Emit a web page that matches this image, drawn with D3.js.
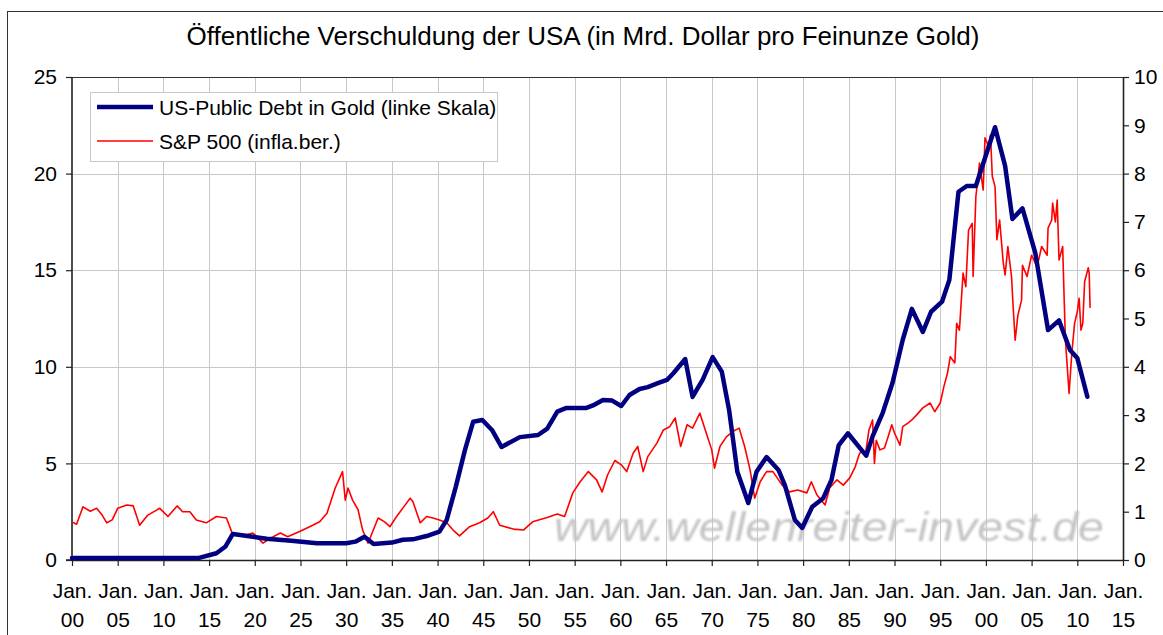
<!DOCTYPE html>
<html><head><meta charset="utf-8">
<script src="https://cdn.jsdelivr.net/npm/d3@7"></script>
<style>
body{margin:0;background:#fff}
svg{display:block}
text{font-family:Arial,"Liberation Sans",sans-serif;fill:#000}
</style>
</head><body>
<svg id="c" width="1163" height="635"></svg>
<script>
const title = "Öffentliche Verschuldung der USA (in Mrd. Dollar pro Feinunze Gold)";
const seriesNames = ["US-Public Debt in Gold (linke Skala)", "S&P 500 (infla.ber.)"];
const watermark = "www.wellenreiter-invest.de";

const xTickYears = [1900,1905,1910,1915,1920,1925,1930,1935,1940,1945,1950,1955,1960,1965,1970,1975,1980,1985,1990,1995,2000,2005,2010,2015];
const leftTicks = [0,5,10,15,20,25];
const rightTicks = [0,1,2,3,4,5,6,7,8,9,10];

// US public debt in gold (left scale)
const debtYears = [1900,1905,1910,1913.8,1915.8,1916.8,1917.6,1919.8,1921.3,1924,1926.8,1930,1931,1932,1933,1935,1936.2,1937.3,1938.8,1940.2,1941,1942,1943,1943.9,1944.9,1946,1947,1949,1951,1952,1953.1,1954.1,1956.3,1957,1958.1,1959.1,1960.1,1961,1962.1,1963,1964.1,1965.1,1965.8,1967.1,1967.9,1969,1970.1,1971.1,1971.9,1972.8,1974,1974.9,1976,1977.3,1978,1979.1,1979.9,1981,1982.2,1983.1,1983.9,1984.9,1986.2,1986.9,1987.6,1988.7,1989.8,1990.9,1991.9,1993.1,1994,1995.2,1996,1997,1997.9,1998.9,2001,2002.1,2002.9,2004,2005.4,2006.8,2008,2009.2,2010,2011.1];
const debtValues = [0.1,0.1,0.1,0.1,0.35,0.7,1.35,1.2,1.1,1.0,0.87,0.87,0.95,1.2,0.83,0.9,1.05,1.07,1.24,1.47,2.07,3.8,5.7,7.16,7.25,6.7,5.85,6.36,6.47,6.8,7.68,7.87,7.87,8.0,8.28,8.25,7.97,8.54,8.85,8.95,9.15,9.32,9.67,10.4,8.44,9.32,10.5,9.75,7.76,4.57,2.95,4.57,5.33,4.66,3.88,2.07,1.66,2.76,3.2,4.14,5.95,6.56,5.8,5.4,6.4,7.6,9.2,11.4,13.0,11.8,12.85,13.37,14.5,19.06,19.36,19.36,22.4,20.4,17.65,18.2,15.9,11.9,12.4,10.87,10.45,8.45];

// S&P 500 inflation adjusted (right scale)
const spxYears = [1900.0,1900.5,1901.2,1902.0,1902.7,1903.3,1903.8,1904.4,1905.0,1906.0,1906.7,1907.4,1908.3,1909.6,1910.5,1911.5,1912.1,1912.9,1913.6,1914.7,1915.8,1916.9,1917.6,1919.1,1919.8,1920.9,1921.7,1922.8,1923.6,1924.9,1926.0,1927.1,1927.9,1928.8,1929.6,1929.9,1930.2,1930.7,1931.3,1931.8,1932.4,1932.9,1933.5,1934.2,1934.8,1935.4,1936.3,1937.0,1937.3,1938.1,1938.8,1939.5,1940.2,1941.0,1941.7,1942.4,1943.5,1944.6,1945.5,1946.1,1946.8,1948.3,1949.4,1950.4,1952.0,1953.1,1953.9,1954.8,1955.6,1956.5,1957.4,1958.0,1958.6,1959.4,1960.1,1960.7,1961.4,1961.9,1962.5,1963.0,1964.0,1964.7,1965.4,1966.0,1966.6,1967.3,1967.9,1968.7,1969.4,1970.0,1970.3,1970.9,1971.6,1972.3,1973.0,1973.6,1974.2,1974.7,1975.3,1976.0,1976.7,1977.7,1978.5,1979.4,1980.4,1980.9,1981.5,1982.4,1982.9,1983.7,1984.4,1985.1,1985.7,1986.1,1986.4,1986.8,1987.2,1987.6,1987.8,1988.0,1988.4,1988.9,1989.3,1989.7,1990.0,1990.6,1990.9,1991.5,1991.9,1992.4,1993.1,1993.9,1994.4,1995.0,1995.4,1995.8,1996.1,1996.6,1996.8,1997.1,1997.5,1997.8,1998.1,1998.5,1998.6,1998.9,1999.3,1999.7,1999.9,2000.3,2000.5,2000.7,2001.0,2001.2,2001.5,2001.9,2002.1,2002.4,2002.8,2003.0,2003.2,2003.5,2003.9,2004.0,2004.5,2005.0,2005.6,2006.1,2006.7,2006.8,2007.2,2007.3,2007.6,2007.8,2008.0,2008.4,2008.5,2008.7,2009.1,2009.4,2009.7,2010.0,2010.2,2010.4,2010.6,2010.8,2011.2,2011.3,2011.4];
const spxValues = [0.79,0.74,1.10,1.01,1.07,0.93,0.77,0.83,1.07,1.14,1.12,0.72,0.93,1.07,0.90,1.12,1.00,1.00,0.83,0.77,0.90,0.87,0.52,0.52,0.56,0.35,0.45,0.56,0.48,0.59,0.69,0.79,0.97,1.49,1.83,1.24,1.49,1.24,1.04,0.62,0.35,0.59,0.87,0.79,0.69,0.87,1.10,1.28,1.21,0.77,0.90,0.87,0.83,0.77,0.62,0.50,0.69,0.77,0.87,1.00,0.72,0.64,0.62,0.79,0.88,0.95,0.90,1.39,1.62,1.83,1.66,1.41,1.76,2.06,1.97,1.83,2.21,2.35,1.83,2.14,2.42,2.69,2.76,2.94,2.35,2.80,2.73,3.04,2.63,2.28,1.90,2.35,2.55,2.66,2.73,2.35,1.86,1.28,1.62,1.83,1.83,1.55,1.41,1.45,1.39,1.62,1.35,1.14,1.49,1.66,1.55,1.70,1.93,2.17,2.28,2.17,2.69,2.90,2.00,2.48,2.28,2.32,2.55,2.80,2.63,2.38,2.76,2.84,2.90,3.00,3.15,3.25,3.07,3.25,3.59,3.87,4.21,4.08,4.90,4.76,5.94,5.66,6.83,6.97,5.87,7.52,8.22,7.66,8.74,8.56,8.80,7.94,7.73,6.63,7.04,6.15,5.90,6.49,5.87,5.18,4.55,5.07,5.38,6.10,5.87,6.31,6.07,6.49,6.31,6.87,7.04,7.39,7.00,7.45,6.21,6.49,5.80,4.55,3.45,4.28,4.90,5.14,5.42,4.76,4.90,5.76,6.05,5.94,5.22];

const svg = d3.select("#c");
const x = d3.scaleLinear().domain([1900, 2015]).range([72, 1123]);
const yL = d3.scaleLinear().domain([0, 25]).range([560, 77]);
const yR = d3.scaleLinear().domain([0, 10]).range([560, 77]);

// outer frame
svg.append("rect").attr("x", 7.5).attr("y", 11.5).attr("width", 1300).attr("height", 800)
  .attr("fill", "#fff").attr("stroke", "#333").attr("stroke-width", 1);

// title
svg.append("text").attr("x", 583).attr("y", 45).attr("text-anchor", "middle")
  .attr("font-size", 26).text(title);

// gridlines
const grid = svg.append("g").attr("stroke", "#c8c8c8").attr("stroke-width", 1);
grid.selectAll(".v").data(xTickYears.slice(1, -1)).join("line")
  .attr("x1", d => Math.round(x(d)) + 0.5).attr("x2", d => Math.round(x(d)) + 0.5)
  .attr("y1", yL(25)).attr("y2", yL(0));
grid.selectAll(".h").data(leftTicks.slice(1, -1)).join("line")
  .attr("x1", x(1900)).attr("x2", x(2015))
  .attr("y1", d => Math.round(yL(d)) + 0.5).attr("y2", d => Math.round(yL(d)) + 0.5);

// watermark
const defs = svg.append("defs");
defs.append("filter").attr("id", "blur").append("feGaussianBlur").attr("stdDeviation", 0.9);
svg.append("text").attr("x", 554).attr("y", 541)
  .attr("font-size", 40).attr("font-style", "italic")
  .attr("textLength", 550).attr("lengthAdjust", "spacingAndGlyphs")
  .style("fill", "#c4c4c4").attr("filter", "url(#blur)").text(watermark);

// top border of plot area
svg.append("line").attr("x1", x(1900)).attr("x2", x(2015))
  .attr("y1", Math.round(yL(25)) + 0.5).attr("y2", Math.round(yL(25)) + 0.5)
  .attr("stroke", "#333").attr("stroke-width", 1);

// axes
const fs = 21;
const gL = svg.append("g").attr("transform", `translate(${x(1900)},0)`)
  .call(d3.axisLeft(yL).tickValues(leftTicks).tickSize(6).tickSizeOuter(0).tickPadding(9));
const gR = svg.append("g").attr("transform", `translate(${x(2015)},0)`)
  .call(d3.axisRight(yR).tickValues(rightTicks).tickSize(6).tickSizeOuter(0).tickPadding(5));
const gB = svg.append("g").attr("transform", `translate(0,${yL(0)})`)
  .call(d3.axisBottom(x).tickValues(xTickYears).tickSize(6).tickSizeOuter(0).tickFormat(""));
[gL, gR, gB].forEach(g => {
  g.select(".domain").attr("stroke", "#222").attr("stroke-width", 1.6);
  g.selectAll(".tick line").attr("stroke", "#222").attr("stroke-width", 1.2);
  g.selectAll(".tick text").attr("font-size", fs).attr("font-family", "Arial, 'Liberation Sans', sans-serif").style("fill", "#000");
});
gL.select(".domain").attr("d", `M-6,${yL(0)}H0V${yL(25)}`);
gB.selectAll(".tick").each(function(d) {
  const t = d3.select(this);
  t.select("text").remove();
  t.append("text").attr("y", 38).attr("text-anchor", "middle").attr("font-size", fs)
    .style("fill", "#000").text("Jan.");
  t.append("text").attr("y", 67).attr("text-anchor", "middle").attr("font-size", fs)
    .style("fill", "#000").text(String(d % 100).padStart(2, "0"));
});

// data lines
const lineL = d3.line().x(d => x(d[0])).y(d => yL(d[1]));
const lineR = d3.line().x(d => x(d[0])).y(d => yR(d[1]));
svg.append("path").datum(d3.zip(spxYears, spxValues)).attr("d", lineR)
  .attr("fill", "none").attr("stroke", "#ff0000").attr("stroke-width", 1.6).attr("stroke-linejoin", "round");
svg.append("path").datum(d3.zip(debtYears, debtValues)).attr("d", lineL)
  .attr("fill", "none").attr("stroke", "#000080").attr("stroke-width", 4.5).attr("stroke-linejoin", "round").attr("stroke-linecap", "round");

// legend
const lg = svg.append("g");
lg.append("rect").attr("x", 90.5).attr("y", 92.5).attr("width", 407).attr("height", 69)
  .attr("fill", "#fff").attr("stroke", "#c8c8c8");
const legendItems = [{name: seriesNames[0], color: "#000080", w: 4.5, y: 107}, {name: seriesNames[1], color: "#ff0000", w: 1.6, y: 141}];
legendItems.forEach(it => {
  lg.append("line").attr("x1", 97).attr("x2", 153).attr("y1", it.y).attr("y2", it.y)
    .attr("stroke", it.color).attr("stroke-width", it.w);
  lg.append("text").attr("x", 159).attr("y", it.y + 7.5).attr("font-size", 21).text(it.name);
});
</script>
</body></html>
